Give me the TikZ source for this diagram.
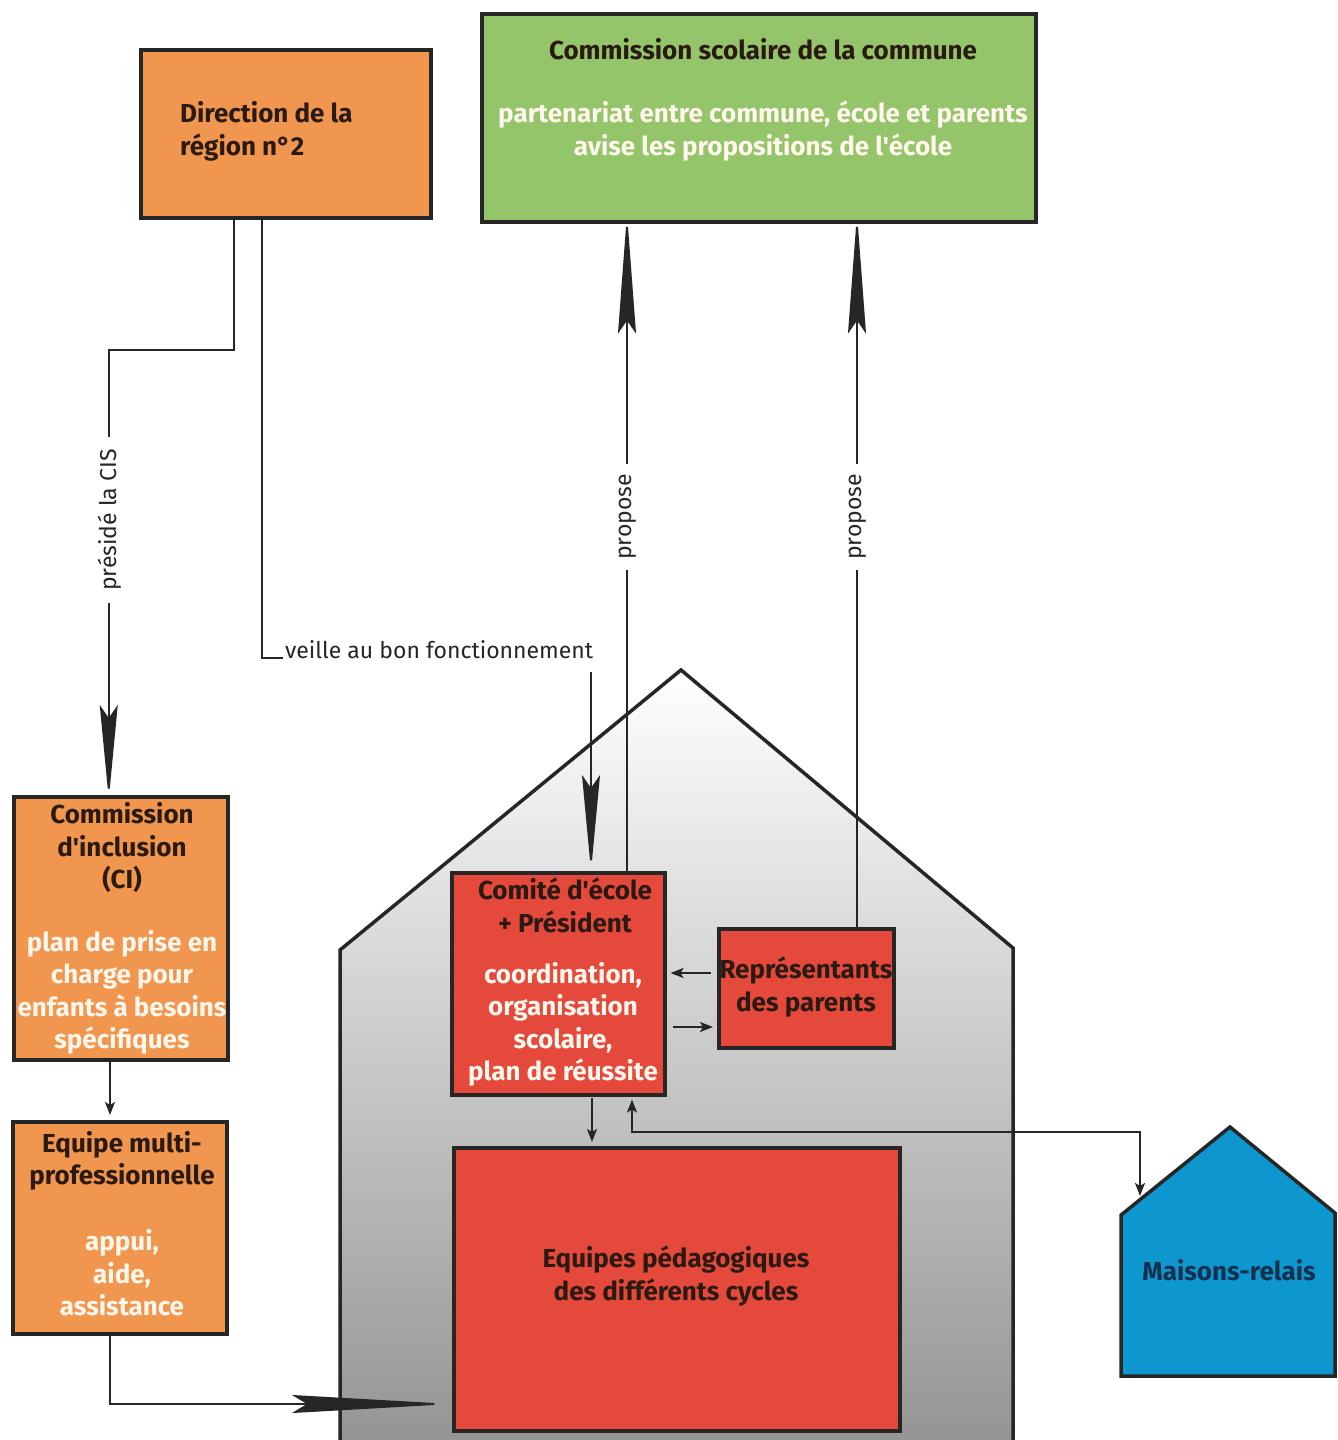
\documentclass[tikz,border=0pt]{standalone}
\usepackage{fontspec}
\setmainfont{Fira Sans}[Ligatures=TeXOff]
\usetikzlibrary{arrows.meta}
\definecolor{orng}{HTML}{F0964F}
\definecolor{grn}{HTML}{94C56B}
\definecolor{rd}{HTML}{E4493B}
\definecolor{blu}{HTML}{0E97CF}
\definecolor{dk}{HTML}{2A1A12}
\definecolor{navy}{HTML}{14304F}
\definecolor{cream}{HTML}{FFF6EC}
\begin{document}
\begin{tikzpicture}[x=1pt,y=-1pt,
  box/.style={draw=black!85, line width=3.5pt, rectangle, inner sep=0pt, anchor=north west},
  dtxt/.style={text=dk, font=\fontsize{26}{32.5}\selectfont\bfseries, align=center, inner sep=0pt},
  wtxt/.style={text=cream, font=\fontsize{26}{32.5}\selectfont\bfseries, align=center, inner sep=0pt},
  lbl/.style={text=black!85, font=\fontsize{23}{26}\selectfont, inner sep=0pt},
  conn/.style={draw=black!85, line width=2pt},
  longtip/.style={-{Stealth[length=#1,width=18pt,inset=13pt]}},
  smalltip/.style={-{Stealth[length=13pt,width=10pt,inset=3pt]}},
]
\useasboundingbox (0,0) rectangle (1338,1440);
\fill[white] (0,0) rectangle (1338,1440);

% main house
\shade[top color=white, bottom color=black!42] (340,1445) -- (340,950) -- (681,670) -- (1013,948) -- (1013,1445) -- cycle;
\draw[line width=3.5pt, draw=black!85, line join=miter] (340,1445) -- (340,950) -- (681,670) -- (1013,948) -- (1013,1445);

% maisons-relais house
\filldraw[fill=blu, draw=black!85, line width=3.5pt, line join=miter] (1121,1376) -- (1121,1215) -- (1230,1127) -- (1335,1213) -- (1335,1376) -- cycle;
\node[text=navy, font=\fontsize{26}{32.5}\selectfont\bfseries, inner sep=0pt] (mr) at (1229,1270) {Maisons-relais};
\coordinate (mroof) at (1140,1196);

% boxes
\node[box, fill=orng, minimum width=290pt, minimum height=168pt] (dir) at (139,48) {};
\node[dtxt, anchor=west, align=left] (dirt) at (180,131.5) {Direction de la\\région n°2};

\node[box, fill=grn, minimum width=554pt, minimum height=208pt] (cs) at (480,12) {};
\node[dtxt] (cst) at (763,49) {Commission scolaire de la commune};
\node[wtxt] (csw) at (763,131) {partenariat entre commune, école et parents\\avise les propositions de l'école};

\node[box, fill=orng, minimum width=214pt, minimum height=263pt] (ci) at (12,795) {};
\node[dtxt] (cit) at (122,848) {Commission\\d'inclusion\\(CI)};
\node[wtxt] (ciw) at (122,992.5) {plan de prise en\\charge pour\\enfants à besoins\\spécifiques};

\node[box, fill=orng, minimum width=214pt, minimum height=212pt] (eq) at (11,1120) {};
\node[dtxt] (eqt) at (122,1161) {Equipe multi-\\professionnelle};
\node[wtxt] (eqw) at (122,1273) {appui,\\aide,\\assistance};

\node[box, fill=rd, minimum width=213pt, minimum height=222pt] (com) at (450,871) {};
\node[dtxt] (comt) at (565,905.5) {Comité d'école\\+ Président};
\node[wtxt] (comw) at (563,1024.5) {coordination,\\organisation\\scolaire,\\plan de réussite};

\node[box, fill=rd, minimum width=175pt, minimum height=119pt] (rep) at (717,927) {};
\node[dtxt] (rept) at (806,987) {Représentants\\des parents};

\node[box, fill=rd, minimum width=446pt, minimum height=283pt] (eqp) at (452,1146) {};
\node[dtxt] (eqpt) at (676,1276) {Equipes pédagogiques\\des différents cycles};

% connectors
\draw[conn, longtip=94pt, shorten >=-4pt] ([xshift=95pt]dir.south west) -- ++(0,130) -| ([xshift=-12pt]ci.north);
\node[lbl, rotate=90, fill=white, inner xsep=12pt, inner ysep=2pt] (pres) at (110,520) {présidé la CIS};

\node[lbl, anchor=base west] (veil) at (285,658) {veille au bon fonctionnement};
\draw[conn] ([xshift=123pt]dir.south west) |- ([xshift=-2pt]veil.base west);
\coordinate (vstart) at (591,672);
\draw[conn, longtip=96pt] (vstart) -- (vstart |- com.north);

\coordinate (p1) at ([xshift=177pt]com.north west);
\coordinate (p2) at ([xshift=140pt]rep.north west);
\draw[conn, longtip=120pt, shorten >=-10pt] (p1) -- (p1 |- cs.south);
\draw[conn, longtip=120pt, shorten >=-10pt] (p2) -- (p2 |- cs.south);
\node[lbl, rotate=90, fill=white, inner xsep=10pt, inner ysep=2pt] (prop1) at (628,517) {propose};
\node[lbl, rotate=90, fill=white, inner xsep=10pt, inner ysep=2pt] (prop2) at (858,517) {propose};

\draw[conn, smalltip, shorten <=6pt, shorten >=4pt] (rep.west |- 0,973) -- (com.east |- 0,973);
\draw[conn, smalltip, shorten <=6pt, shorten >=4pt] (com.east |- 0,1027) -- (rep.west |- 0,1027);

\draw[conn, smalltip, shorten <=1pt, shorten >=4pt] (com.south -| 592,0) -- (eqp.north -| 592,0);
\draw[conn, {Stealth[length=13pt,width=10pt,inset=3pt]}-{Stealth[length=13pt,width=10pt,inset=3pt]}, shorten <=3pt] (com.south -| 632,0) |- (mroof |- 0,1132) -- (mroof);

\draw[conn, smalltip, shorten >=5pt] (ci.south -| 110,0) -- (eq.north -| 110,0);
\draw[conn, -{Stealth[length=160pt,width=18pt,inset=15pt]}, shorten >=0pt] (eq.south -| 110,0) |- (eqp.west |- 0,1404);
\end{tikzpicture}
\end{document}
